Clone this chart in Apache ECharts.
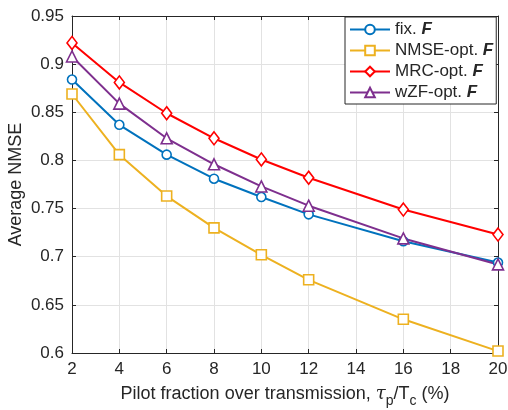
<!DOCTYPE html>
<html>
<head>
<meta charset="utf-8">
<script src="https://cdn.jsdelivr.net/npm/echarts@6/dist/echarts.min.js"></script>
<style>
  html, body { margin: 0; padding: 0; background: #fff; }
  #chart { width: 508px; height: 410px; }
</style>
</head>
<body>
<div id="chart"></div>
<script>
// Pilot fraction tau_p / T_c in percent
const pilotFraction = [2, 4, 6, 8, 10, 12, 16, 20];

// Average NMSE for each pilot/power allocation scheme
const fixF     = [0.884, 0.837, 0.806, 0.781, 0.762, 0.744, 0.716, 0.694];
const nmseOptF = [0.869, 0.806, 0.763, 0.730, 0.702, 0.676, 0.635, 0.602];
const mrcOptF  = [0.922, 0.881, 0.849, 0.823, 0.801, 0.782, 0.749, 0.723];
const wzfOptF  = [0.908, 0.859, 0.823, 0.796, 0.773, 0.753, 0.719, 0.692];

const seriesNames = ['fix.', 'NMSE-opt.', 'MRC-opt.', 'wZF-opt.'];
const xTicks = [2, 4, 6, 8, 10, 12, 14, 16, 18, 20];
const yTicks = [0.6, 0.65, 0.7, 0.75, 0.8, 0.85, 0.9, 0.95];

const FONT = 'Liberation Sans, Arial, Helvetica, sans-serif';
const AXIS_COLOR = '#262626';
const GRID_COLOR = '#e2e2e2';
const TICK_FS = 17;
const LABEL_FS = 18;

function pairs(ys) {
  return pilotFraction.map((x, i) => [x, ys[i]]);
}

function makeSeries(name, ys, color, symbol, size) {
  return {
    name: name,
    type: 'line',
    data: pairs(ys),
    clip: false,
    symbol: symbol,
    symbolSize: size,
    lineStyle: { color: color, width: 2 },
    itemStyle: { color: '#ffffff', borderColor: color, borderWidth: 1.6 },
    emphasis: { disabled: true },
    z: 3
  };
}

const chart = echarts.init(document.getElementById('chart'), null, { renderer: 'canvas' });

const axisBase = {
  type: 'value',
  axisLine: { show: true, lineStyle: { color: AXIS_COLOR, width: 1 } },
  axisTick: { show: true, inside: true, length: 4, lineStyle: { color: AXIS_COLOR } },
  axisLabel: { color: AXIS_COLOR, fontFamily: FONT, fontSize: TICK_FS },
  splitLine: { show: true, lineStyle: { color: GRID_COLOR, width: 1 } }
};

chart.setOption({
  animation: false,
  backgroundColor: '#ffffff',
  grid: { left: 72, right: 10, top: 16, bottom: 57, containLabel: false, outerBoundsMode: 'none' },
  legend: {
    orient: 'vertical',
    left: 345,
    top: 17,
    padding: [4, 3, 3, 4],
    itemWidth: 40,
    itemHeight: 12,
    itemGap: 4,
    backgroundColor: '#ffffff',
    borderColor: AXIS_COLOR,
    borderWidth: 1,
    data: seriesNames,
    formatter: name => name + ' {b|F}',
    textStyle: {
      color: AXIS_COLOR,
      fontFamily: FONT,
      fontSize: TICK_FS,
      lineHeight: 17,
      rich: {
        b: { fontWeight: 'bold', fontStyle: 'italic', fontFamily: FONT, fontSize: TICK_FS, lineHeight: 17, color: AXIS_COLOR }
      }
    }
  },
  xAxis: [
    Object.assign({}, axisBase, {
      min: xTicks[0],
      max: xTicks[xTicks.length - 1],
      interval: 2,
      position: 'bottom',
      axisLabel: Object.assign({}, axisBase.axisLabel, { margin: 8 }),
      name: '{t|Pilot fraction over transmission, }{i|τ}{s|p}{t|/T}{s|c}{t| (%)}',
      nameLocation: 'middle',
      nameGap: 27,
      nameMoveOverlap: false,
      nameTextStyle: {
        rich: {
          t: { color: AXIS_COLOR, fontFamily: FONT, fontSize: LABEL_FS },
          i: { color: AXIS_COLOR, fontFamily: 'DejaVu Serif, serif', fontStyle: 'italic', fontSize: LABEL_FS },
          s: { color: AXIS_COLOR, fontFamily: FONT, fontSize: 14, padding: [14, 0, 0, 0] }
        }
      }
    }),
    Object.assign({}, axisBase, {
      min: xTicks[0],
      max: xTicks[xTicks.length - 1],
      interval: 2,
      position: 'top',
      axisLabel: { show: false },
      splitLine: { show: false }
    })
  ],
  yAxis: [
    Object.assign({}, axisBase, {
      min: yTicks[0],
      max: yTicks[yTicks.length - 1],
      interval: 0.05,
      position: 'left',
      axisLabel: Object.assign({}, axisBase.axisLabel, {
        margin: 8,
        formatter: v => String(Number(v.toFixed(2)))
      }),
      name: 'Average NMSE',
      nameLocation: 'middle',
      nameGap: 47,
      nameMoveOverlap: false,
      nameTextStyle: { color: AXIS_COLOR, fontFamily: FONT, fontSize: LABEL_FS }
    }),
    Object.assign({}, axisBase, {
      min: yTicks[0],
      max: yTicks[yTicks.length - 1],
      interval: 0.05,
      position: 'right',
      axisLabel: { show: false },
      splitLine: { show: false }
    })
  ],
  series: [
    makeSeries(seriesNames[0], fixF, '#0072BD', 'circle', 9),
    makeSeries(seriesNames[1], nmseOptF, '#EDB120', 'rect', 10),
    makeSeries(seriesNames[2], mrcOptF, '#FF0000', 'diamond', [10, 13]),
    makeSeries(seriesNames[3], wzfOptF, '#7E2F8E', 'triangle', 11)
  ]
});
</script>
</body>
</html>
